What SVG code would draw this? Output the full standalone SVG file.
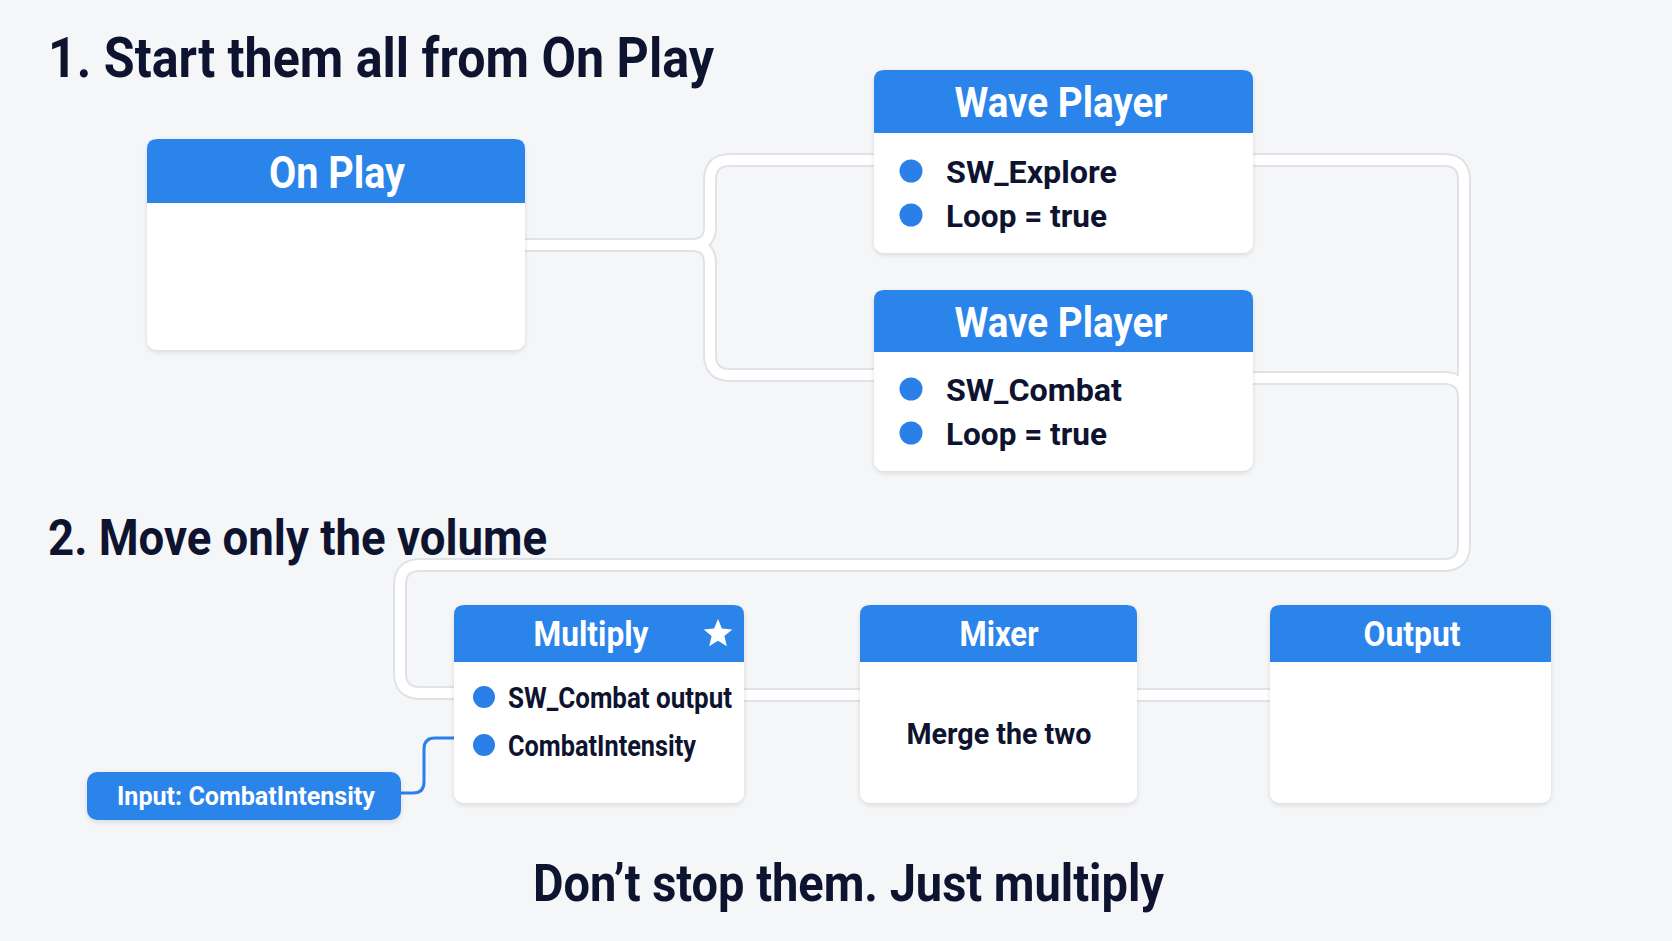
<svg xmlns="http://www.w3.org/2000/svg" xmlns:xlink="http://www.w3.org/1999/xlink" width="1672" height="941" viewBox="0 0 1672 941">
<style>
.bg{fill:#f5f6f8}
.title{font-family:Roboto,"Liberation Sans",sans-serif;font-weight:700;fill:#0e1430}
.body{fill:#ffffff}
.head{fill:#2b84ea}
.htxt{font-family:Roboto,"Liberation Sans",sans-serif;font-weight:700;fill:#ffffff;text-anchor:middle}
.item{font-family:Roboto,"Liberation Sans",sans-serif;font-weight:700;fill:#0e1430}
.dot{fill:#2a80e8}
.eo{fill:none;stroke:#dfe2e7;stroke-width:14;stroke-linejoin:round}
.ei{fill:none;stroke:#ffffff;stroke-width:10;stroke-linejoin:round}
.blue{fill:none;stroke:#2a80e8;stroke-width:3}
</style>
<defs>
<filter id="sh" x="-10%" y="-10%" width="120%" height="130%">
<feDropShadow dx="0" dy="2" stdDeviation="2.5" flood-color="#000" flood-opacity="0.12"/>
</filter>
<path id="pa" d="M520,245 H692 Q710,245 710,227 V180 Q710,160 730,160 H880"/>
<path id="pb" d="M520,245 H692 Q710,245 710,263 V355 Q710,375 730,375 H880"/>
<path id="pc" d="M1248,160 H1444 Q1464,160 1464,180 V545 Q1464,565 1444,565 H420 Q400,565 400,585 V673 Q400,693 420,693 H460"/>
<path id="pd" d="M1248,378 H1444 Q1464,378 1464,398 V440"/>
<path id="pe" d="M740,695 H866"/>
<path id="pf" d="M1132,695 H1276"/>
</defs>
<rect class="bg" x="0" y="0" width="1672" height="941"/>

<text class="title" x="48" y="77" font-size="55" textLength="666" lengthAdjust="spacingAndGlyphs">1. Start them all from On Play</text>
<text class="title" x="48" y="555" font-size="50" textLength="499" lengthAdjust="spacingAndGlyphs">2. Move only the volume</text>
<text class="title" x="533" y="901" font-size="52" textLength="631" lengthAdjust="spacingAndGlyphs">Don’t stop them. Just multiply</text>

<g id="connectors">
<use href="#pa" xlink:href="#pa" class="eo"/>
<use href="#pb" xlink:href="#pb" class="eo"/>
<use href="#pc" xlink:href="#pc" class="eo"/>
<use href="#pd" xlink:href="#pd" class="eo"/>
<use href="#pe" xlink:href="#pe" class="eo"/>
<use href="#pf" xlink:href="#pf" class="eo"/>
<use href="#pa" xlink:href="#pa" class="ei"/>
<use href="#pb" xlink:href="#pb" class="ei"/>
<use href="#pc" xlink:href="#pc" class="ei"/>
<use href="#pd" xlink:href="#pd" class="ei"/>
<use href="#pe" xlink:href="#pe" class="ei"/>
<use href="#pf" xlink:href="#pf" class="ei"/>
<path class="blue" d="M401,793 H413 Q424,793 424,782 V749 Q424,738 435,738 H456"/>
</g>

<g id="on-play">
<rect class="body" x="147" y="139" width="378" height="211" rx="10" filter="url(#sh)"/>
<path class="head" d="M147,203 V149 Q147,139 157,139 H515 Q525,139 525,149 V203 Z"/>
<text class="htxt" x="337" y="188" font-size="44" textLength="136" lengthAdjust="spacingAndGlyphs">On Play</text>
</g>

<g id="wave-player-1">
<rect class="body" x="874" y="70" width="379" height="183" rx="10" filter="url(#sh)"/>
<path class="head" d="M874,133 V80 Q874,70 884,70 H1243 Q1253,70 1253,80 V133 Z"/>
<text class="htxt" x="1061" y="117" font-size="43" textLength="213" lengthAdjust="spacingAndGlyphs">Wave Player</text>
<circle class="dot" cx="911" cy="171" r="11.5"/>
<text class="item" x="946" y="183" font-size="32" textLength="171" lengthAdjust="spacingAndGlyphs">SW_Explore</text>
<circle class="dot" cx="911" cy="215" r="11.5"/>
<text class="item" x="946" y="227" font-size="32" textLength="161" lengthAdjust="spacingAndGlyphs">Loop = true</text>
</g>

<g id="wave-player-2">
<rect class="body" x="874" y="290" width="379" height="181" rx="10" filter="url(#sh)"/>
<path class="head" d="M874,352 V300 Q874,290 884,290 H1243 Q1253,290 1253,300 V352 Z"/>
<text class="htxt" x="1061" y="337" font-size="43" textLength="213" lengthAdjust="spacingAndGlyphs">Wave Player</text>
<circle class="dot" cx="911" cy="389" r="11.5"/>
<text class="item" x="946" y="401" font-size="32" textLength="176" lengthAdjust="spacingAndGlyphs">SW_Combat</text>
<circle class="dot" cx="911" cy="433" r="11.5"/>
<text class="item" x="946" y="445" font-size="32" textLength="161" lengthAdjust="spacingAndGlyphs">Loop = true</text>
</g>

<g id="multiply">
<rect class="body" x="454" y="605" width="290" height="198" rx="10" filter="url(#sh)"/>
<path class="head" d="M454,662 V615 Q454,605 464,605 H734 Q744,605 744,615 V662 Z"/>
<text class="htxt" x="591" y="646" font-size="35" textLength="115" lengthAdjust="spacingAndGlyphs">Multiply</text>
<polygon fill="#ffffff" points="718,619 721.9,628.6 732.3,629.4 724.4,636.1 726.8,646.2 718,640.8 709.2,646.2 711.6,636.1 703.7,629.4 714.1,628.6"/>
<circle class="dot" cx="484" cy="697" r="11"/>
<text class="item" x="508" y="708" font-size="29" textLength="224" lengthAdjust="spacingAndGlyphs">SW_Combat output</text>
<circle class="dot" cx="484" cy="745" r="11"/>
<text class="item" x="508" y="756" font-size="29" textLength="188" lengthAdjust="spacingAndGlyphs">CombatIntensity</text>
</g>

<g id="mixer">
<rect class="body" x="860" y="605" width="277" height="198" rx="10" filter="url(#sh)"/>
<path class="head" d="M860,662 V615 Q860,605 870,605 H1127 Q1137,605 1137,615 V662 Z"/>
<text class="htxt" x="999" y="646" font-size="35" textLength="79" lengthAdjust="spacingAndGlyphs">Mixer</text>
<text class="item" x="999" y="744" font-size="29" text-anchor="middle" textLength="185" lengthAdjust="spacingAndGlyphs">Merge the two</text>
</g>

<g id="output">
<rect class="body" x="1270" y="605" width="281" height="198" rx="10" filter="url(#sh)"/>
<path class="head" d="M1270,662 V615 Q1270,605 1280,605 H1541 Q1551,605 1551,615 V662 Z"/>
<text class="htxt" x="1412" y="646" font-size="35" textLength="97" lengthAdjust="spacingAndGlyphs">Output</text>
</g>

<g id="input-combat-intensity">
<rect class="head" x="87" y="772" width="314" height="48" rx="10" filter="url(#sh)"/>
<text class="htxt" x="246" y="805" font-size="26" textLength="258" lengthAdjust="spacingAndGlyphs">Input: CombatIntensity</text>
</g>
</svg>
